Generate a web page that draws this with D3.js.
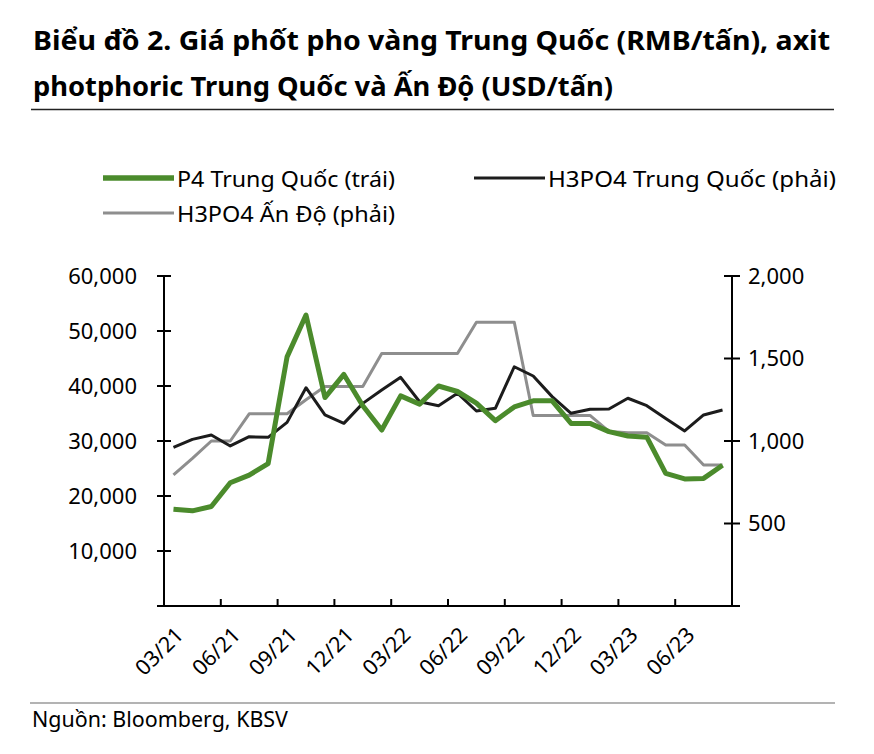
<!DOCTYPE html>
<html>
<head>
<meta charset="utf-8">
<script src="https://cdn.jsdelivr.net/npm/d3@7"></script>
<style>
  html, body { margin: 0; padding: 0; background: #fff; }
  svg { display: block; }
  text { font-family: "Noto Sans", "Open Sans", sans-serif; fill: #000; }
</style>
</head>
<body>
<svg id="chart" width="874" height="754"></svg>
<script>
// ---------------- DATA ----------------
const months = ["03/21","04/21","05/21","06/21","07/21","08/21","09/21","10/21","11/21","12/21",
                "01/22","02/22","03/22","04/22","05/22","06/22","07/22","08/22","09/22","10/22",
                "11/22","12/22","01/23","02/23","03/23","04/23","05/23","06/23","07/23","08/23"];
const tickLabels = ["03/21","06/21","09/21","12/21","03/22","06/22","09/22","12/22","03/23","06/23"];
// P4 Trung Quốc (RMB/tấn) - left axis
const p4China = [17600,17300,18100,22400,23800,25900,45300,52900,37900,42100,
                 36400,32000,38200,36700,40000,39000,36900,33700,36200,37300,
                 37300,33200,33200,31700,30900,30700,24100,23100,23200,25600];
// H3PO4 Trung Quốc (USD/tấn) - right axis
const h3po4China = [962,1010,1036,970,1026,1022,1113,1323,1158,1107,
                    1228,1309,1386,1238,1214,1290,1182,1198,1450,1394,
                    1269,1168,1192,1194,1259,1214,1137,1061,1158,1188];
// H3PO4 Ấn Độ (USD/tấn) - right axis
const h3po4India = [795,895,1000,1000,1165,1165,1165,1250,1330,1330,
                    1330,1530,1530,1530,1530,1530,1720,1720,1720,1155,
                    1155,1155,1155,1058,1050,1050,976,976,855,855];
const leftTicks = [0,10000,20000,30000,40000,50000,60000];
const rightTicks = [0,500,1000,1500,2000];

const titleLines = ["Biểu đồ 2. Giá phốt pho vàng Trung Quốc (RMB/tấn), axit",
                    "photphoric Trung Quốc và Ấn Độ (USD/tấn)"];
const seriesNames = ["P4 Trung Quốc (trái)", "H3PO4 Trung Quốc (phải)", "H3PO4 Ấn Độ (phải)"];
const sourceText = "Nguồn: Bloomberg, KBSV";

// ---------------- LAYOUT ----------------
const svg = d3.select("#chart");
const plot = { left: 164, right: 732, top: 276, bottom: 606 };
const colors = { green: "#4b8b2c", black: "#1c1c1c", gray: "#8e8e8e" };

const x = d3.scaleBand().domain(months).range([plot.left, plot.right]).paddingInner(0).paddingOuter(0);
const xc = d => x(d) + x.bandwidth() / 2;
const yL = d3.scaleLinear().domain([0, 60000]).range([plot.bottom, plot.top]);
const yR = d3.scaleLinear().domain([0, 2000]).range([plot.bottom, plot.top]);
const fmt = d3.format(",");

// Title
svg.append("text").attr("x", 33).attr("y", 50)
  .attr("font-size", 27.5).attr("font-weight", 700).text(titleLines[0])
  .attr("textLength", 797).attr("lengthAdjust", "spacingAndGlyphs");
svg.append("text").attr("x", 33).attr("y", 96)
  .attr("font-size", 27.5).attr("font-weight", 700).text(titleLines[1])
  .attr("textLength", 580).attr("lengthAdjust", "spacingAndGlyphs");
svg.append("line").attr("x1", 31).attr("x2", 834).attr("y1", 109.5).attr("y2", 109.5)
  .attr("stroke", "#222").attr("stroke-width", 1.5);

// Legend
const legendItems = [
  { name: seriesNames[0], color: colors.green, w: 5.5, lx: 103, ly: 178, tl: 218 },
  { name: seriesNames[1], color: colors.black, w: 3, lx: 474, ly: 178, tl: 288 },
  { name: seriesNames[2], color: colors.gray, w: 3, lx: 103, ly: 213, tl: 218 }
];
const lg = svg.append("g");
legendItems.forEach(it => {
  lg.append("line").attr("x1", it.lx).attr("x2", it.lx + 71).attr("y1", it.ly).attr("y2", it.ly)
    .attr("stroke", it.color).attr("stroke-width", it.w);
  lg.append("text").attr("x", it.lx + 74).attr("y", it.ly + 8.5).attr("font-size", 22.5)
    .text(it.name).attr("textLength", it.tl).attr("lengthAdjust", "spacingAndGlyphs");
});

// Axes
const axisG = svg.append("g").attr("stroke", "#000").attr("stroke-width", 2);
axisG.append("line").attr("x1", plot.left - 1).attr("x2", plot.right + 1)
  .attr("y1", plot.bottom).attr("y2", plot.bottom);
axisG.append("line").attr("x1", plot.left).attr("x2", plot.left)
  .attr("y1", plot.top).attr("y2", plot.bottom + 1);
axisG.append("line").attr("x1", plot.right).attr("x2", plot.right)
  .attr("y1", plot.top).attr("y2", plot.bottom + 1);

axisG.selectAll(".lt").data(leftTicks).join("line")
  .attr("x1", plot.left - 7).attr("x2", plot.left + 7)
  .attr("y1", d => yL(d)).attr("y2", d => yL(d));
axisG.selectAll(".rt").data(rightTicks).join("line")
  .attr("x1", plot.right - 8).attr("x2", plot.right + 8)
  .attr("y1", d => yR(d)).attr("y2", d => yR(d));
const xTickCats = months.filter((m, i) => i % 3 === 0);
axisG.selectAll(".xt").data(xTickCats).join("line")
  .attr("x1", d => x(d)).attr("x2", d => x(d))
  .attr("y1", plot.bottom).attr("y2", plot.bottom - 7);
axisG.append("line").attr("x1", plot.right).attr("x2", plot.right)
  .attr("y1", plot.bottom).attr("y2", plot.bottom - 7);

// left labels
svg.selectAll(".ll").data(leftTicks.filter(d => d > 0)).join("text")
  .attr("x", 137).attr("y", d => yL(d)).attr("dy", "0.35em")
  .attr("text-anchor", "end").attr("font-size", 22).text(d => fmt(d));
// right labels
svg.selectAll(".rl").data(rightTicks.filter(d => d > 0)).join("text")
  .attr("x", 748).attr("y", d => yR(d)).attr("dy", "0.35em")
  .attr("text-anchor", "start").attr("font-size", 22).text(d => fmt(d));
// x labels (rotated)
svg.selectAll(".xl").data(tickLabels).join("text")
  .attr("text-anchor", "end").attr("font-size", 21.5)
  .attr("transform", d => `translate(${xc(d) + 6},${plot.bottom + 25}) rotate(-45)`)
  .attr("dy", "0.35em").text(d => d);

// Lines
const lineL = d3.line().x((d, i) => xc(months[i])).y(d => yL(d));
const lineR = d3.line().x((d, i) => xc(months[i])).y(d => yR(d));
svg.append("path").datum(h3po4India).attr("d", lineR).attr("fill", "none")
  .attr("stroke", colors.gray).attr("stroke-width", 3).attr("stroke-linejoin", "round");
svg.append("path").datum(h3po4China).attr("d", lineR).attr("fill", "none")
  .attr("stroke", colors.black).attr("stroke-width", 3).attr("stroke-linejoin", "round");
svg.append("path").datum(p4China).attr("d", lineL).attr("fill", "none")
  .attr("stroke", colors.green).attr("stroke-width", 5).attr("stroke-linejoin", "round");

// Source
svg.append("line").attr("x1", 30).attr("x2", 835).attr("y1", 703).attr("y2", 703)
  .attr("stroke", "#9a9a9a").attr("stroke-width", 1.5);
svg.append("text").attr("x", 32).attr("y", 727).attr("font-size", 21).text(sourceText)
  .attr("textLength", 256).attr("lengthAdjust", "spacingAndGlyphs");
</script>
</body>
</html>
